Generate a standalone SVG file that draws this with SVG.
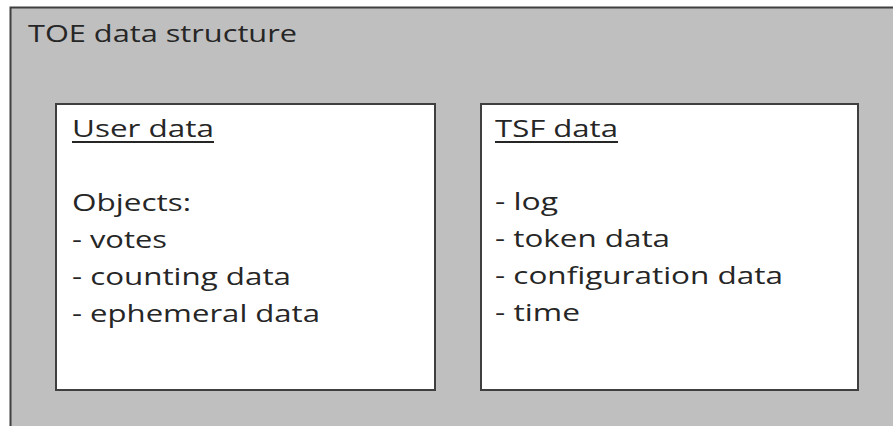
<svg xmlns="http://www.w3.org/2000/svg" width="893" height="426" viewBox="0 0 893 426">
<style>
.box{fill:#ffffff;stroke:#3f3f3f;stroke-width:2}
.t{font-family:"Open Sans","Liberation Sans",sans-serif;font-size:24px;fill:#262626}
.ul{stroke:#262626;stroke-width:2}
</style>
<rect width="893" height="426" fill="#ffffff"/>
<g id="toe">
<rect x="10.5" y="7.5" width="900" height="440" fill="#bfbfbf" stroke="#3f3f3f" stroke-width="2"/>
<text class="t" x="28" y="42" textLength="269" lengthAdjust="spacingAndGlyphs">TOE data structure</text>
</g>
<g id="user">
<rect class="box" x="56" y="104" width="379" height="286"/>
<text class="t" x="72" y="137" textLength="142" lengthAdjust="spacingAndGlyphs">User data</text>
<line class="ul" x1="72" y1="142" x2="214" y2="142"/>
<text class="t" x="72" y="211" textLength="119" lengthAdjust="spacingAndGlyphs">Objects:</text>
<text class="t" x="72" y="248" textLength="95" lengthAdjust="spacingAndGlyphs">- votes</text>
<text class="t" x="72" y="285" textLength="219" lengthAdjust="spacingAndGlyphs">- counting data</text>
<text class="t" x="72" y="322" textLength="248" lengthAdjust="spacingAndGlyphs">- ephemeral data</text>
</g>
<g id="tsf">
<rect class="box" x="481" y="104" width="377" height="286"/>
<text class="t" x="495" y="137" textLength="123" lengthAdjust="spacingAndGlyphs">TSF data</text>
<line class="ul" x1="495" y1="142" x2="618" y2="142"/>
<text class="t" x="495" y="210" textLength="63" lengthAdjust="spacingAndGlyphs">- log</text>
<text class="t" x="495" y="247" textLength="175" lengthAdjust="spacingAndGlyphs">- token data</text>
<text class="t" x="495" y="284" textLength="288" lengthAdjust="spacingAndGlyphs">- configuration data</text>
<text class="t" x="495" y="321" textLength="85" lengthAdjust="spacingAndGlyphs">- time</text>
</g>
<g id="connectors"></g>
</svg>
